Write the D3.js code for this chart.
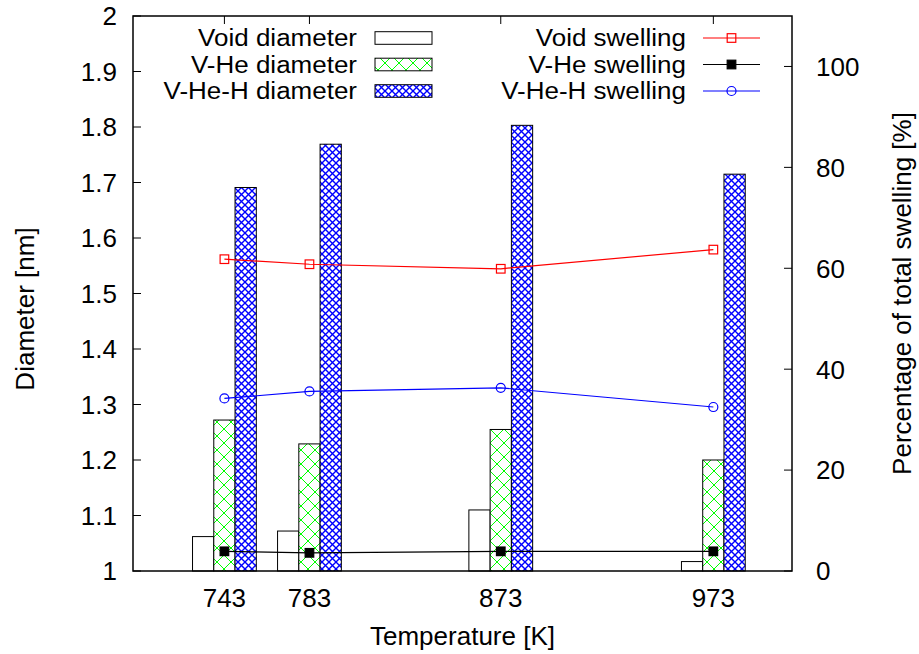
<!DOCTYPE html>
<html>
<head>
<meta charset="utf-8">
<script src="https://cdn.jsdelivr.net/npm/d3@7"></script>
<style>
  body { margin: 0; background: #fff; }
  text { font-family: "Liberation Sans", Arial, sans-serif; fill: #000; }
</style>
</head>
<body>
<svg width="919" height="654"></svg>
<script>
// values
const temps = [743, 783, 873, 973]
const voidDiam = [1.062, 1.072, 1.110, 1.017]
const vheDiam = [1.272, 1.229, 1.255, 1.200]
const vhehDiam = [1.691, 1.769, 1.803, 1.715]
const voidSwell = [61.8, 60.8, 59.9, 63.7]
const vheSwell = [3.9, 3.6, 3.9, 3.9]
const vhehSwell = [34.2, 35.6, 36.3, 32.5]
const yTicks = [1, 1.1, 1.2, 1.3, 1.4, 1.5, 1.6, 1.7, 1.8, 1.9, 2]
const y2Ticks = [0, 20, 40, 60, 80, 100]

const svg = d3.select('svg')
const margin = {top: 16, right: 127, bottom: 83, left: 133}
const w = +svg.attr('width'), h = +svg.attr('height')
const innerW = w - margin.left - margin.right
const innerH = h - margin.top - margin.bottom
const fs = 26
const legFs = 23 // legend rows are tight, so smaller glyphs stretched wide

const x = d3.scaleLinear().domain([700, 1010]).range([0, innerW])
const y = d3.scaleLinear().domain([1, 2]).range([innerH, 0])
const y2 = d3.scaleLinear().domain([0, 110]).range([innerH, 0])
const barW = 10 // kelvin

const defs = svg.append('defs')
const hatch = (id, size, color, sw) => {
  const p = defs.append('pattern').attr('id', id)
    .attr('patternUnits', 'userSpaceOnUse')
    .attr('width', size).attr('height', size)
  p.append('rect').attr('width', size).attr('height', size).attr('fill', '#fff')
  p.append('path')
    .attr('d', `M0,0L${size},${size}M${size},0L0,${size}`)
    .attr('stroke', color).attr('stroke-width', sw).attr('fill', 'none')
}
hatch('green', 14, '#00ff00', 1)
hatch('blue', 7, '#0000ff', 1.4)

const g = svg.append('g').attr('transform', `translate(${margin.left},${margin.top})`)

// ticks (inward)
const tickLen = 8
g.selectAll('.yt').data(yTicks).enter().append('line')
  .attr('x1', 0).attr('x2', tickLen)
  .attr('y1', d => y(d)).attr('y2', d => y(d))
  .attr('stroke', '#000')
g.selectAll('.y2t').data(y2Ticks).enter().append('line')
  .attr('x1', innerW).attr('x2', innerW - tickLen)
  .attr('y1', d => y2(d)).attr('y2', d => y2(d))
  .attr('stroke', '#000')
g.selectAll('.xt').data(temps).enter().append('line')
  .attr('x1', d => x(d)).attr('x2', d => x(d))
  .attr('y1', 0).attr('y2', tickLen)
  .attr('stroke', '#000')
g.selectAll('.xb').data(temps).enter().append('line')
  .attr('x1', d => x(d)).attr('x2', d => x(d))
  .attr('y1', innerH).attr('y2', innerH - tickLen)
  .attr('stroke', '#000')

// tick labels
g.selectAll('.yl').data(yTicks).enter().append('text')
  .attr('x', -16).attr('y', d => y(d)).attr('dy', '0.36em')
  .attr('text-anchor', 'end').attr('font-size', fs)
  .text(d => d3.format('~g')(d))
g.selectAll('.y2l').data(y2Ticks).enter().append('text')
  .attr('x', innerW + 24).attr('y', d => y2(d)).attr('dy', '0.36em')
  .attr('text-anchor', 'start').attr('font-size', fs)
  .text(d => d)
g.selectAll('.xl').data(temps).enter().append('text')
  .attr('x', d => x(d)).attr('y', innerH + 36)
  .attr('text-anchor', 'middle').attr('font-size', fs)
  .text(d => d)

// bars
const series = [
  {vals: voidDiam, off: -15, fill: '#fff'},
  {vals: vheDiam, off: -5, fill: 'url(#green)'},
  {vals: vhehDiam, off: 5, fill: 'url(#blue)'}
]
series.forEach(s => {
  g.selectAll(null).data(temps).enter().append('rect')
    .attr('x', d => x(d + s.off))
    .attr('width', x(700 + barW) - x(700))
    .attr('y', (d, i) => y(s.vals[i]))
    .attr('height', (d, i) => y(1) - y(s.vals[i]))
    .attr('fill', s.fill).attr('stroke', '#000').attr('stroke-width', 1)
})

// border
g.append('rect').attr('width', innerW).attr('height', innerH)
  .attr('fill', 'none').attr('stroke', '#000').attr('stroke-width', 1.5)

// swelling lines
const lines = [
  {vals: voidSwell, color: '#ff0000', mark: 'sq'},
  {vals: vheSwell, color: '#000000', mark: 'fsq'},
  {vals: vhehSwell, color: '#0000ff', mark: 'circ'}
]
const drawMark = (sel, mark, color) => {
  if (mark === 'circ') {
    sel.append('circle').attr('r', 4.5)
      .attr('fill', 'none').attr('stroke', color).attr('stroke-width', 1.2)
  } else {
    sel.append('rect').attr('x', -4.3).attr('y', -4.3).attr('width', 8.6).attr('height', 8.6)
      .attr('fill', mark === 'fsq' ? color : 'none')
      .attr('stroke', color).attr('stroke-width', 1.2)
  }
}
lines.forEach(l => {
  const line = d3.line().x((d, i) => x(temps[i])).y(d => y2(d))
  g.append('path').datum(l.vals).attr('d', line)
    .attr('fill', 'none').attr('stroke', l.color).attr('stroke-width', 1.2)
  l.vals.forEach((v, i) => {
    const m = g.append('g').attr('transform', `translate(${x(temps[i])},${y2(v)})`)
    drawMark(m, l.mark, l.color)
  })
})

// legends
const legL = ['Void diameter', 'V-He diameter', 'V-He-H diameter']
const legR = ['Void swelling', 'V-He swelling', 'V-He-H swelling']
const rowY = [38, 64.5, 91]
const legText = (xr, yc, t) => svg.append('text')
  .attr('transform', `translate(${xr},${yc}) scale(1.13,1)`)
  .attr('dy', '0.36em').attr('text-anchor', 'end').attr('font-size', legFs).text(t)
legL.forEach((t, i) => {
  legText(357, rowY[i], t)
  svg.append('rect').attr('x', 375).attr('y', rowY[i] - 6.3)
    .attr('width', 57).attr('height', 12.6)
    .attr('fill', series[i].fill).attr('stroke', '#000')
})
legR.forEach((t, i) => {
  legText(686, rowY[i], t)
  svg.append('line').attr('x1', 703).attr('x2', 760)
    .attr('y1', rowY[i]).attr('y2', rowY[i])
    .attr('stroke', lines[i].color).attr('stroke-width', 1.2)
  const m = svg.append('g').attr('transform', `translate(731.5,${rowY[i]})`)
  drawMark(m, lines[i].mark, lines[i].color)
})

// axis titles
svg.append('text').attr('x', margin.left + innerW / 2).attr('y', 645)
  .attr('text-anchor', 'middle').attr('font-size', fs).text('Temperature [K]')
svg.append('text').attr('transform', `translate(25,309) rotate(-90)`)
  .attr('dy', '0.36em').attr('text-anchor', 'middle').attr('font-size', fs).text('Diameter [nm]')
svg.append('text').attr('transform', `translate(902,${margin.top + innerH / 2}) rotate(-90)`)
  .attr('dy', '0.36em').attr('text-anchor', 'middle').attr('font-size', fs)
  .text('Percentage of total swelling [%]')
</script>
</body>
</html>
